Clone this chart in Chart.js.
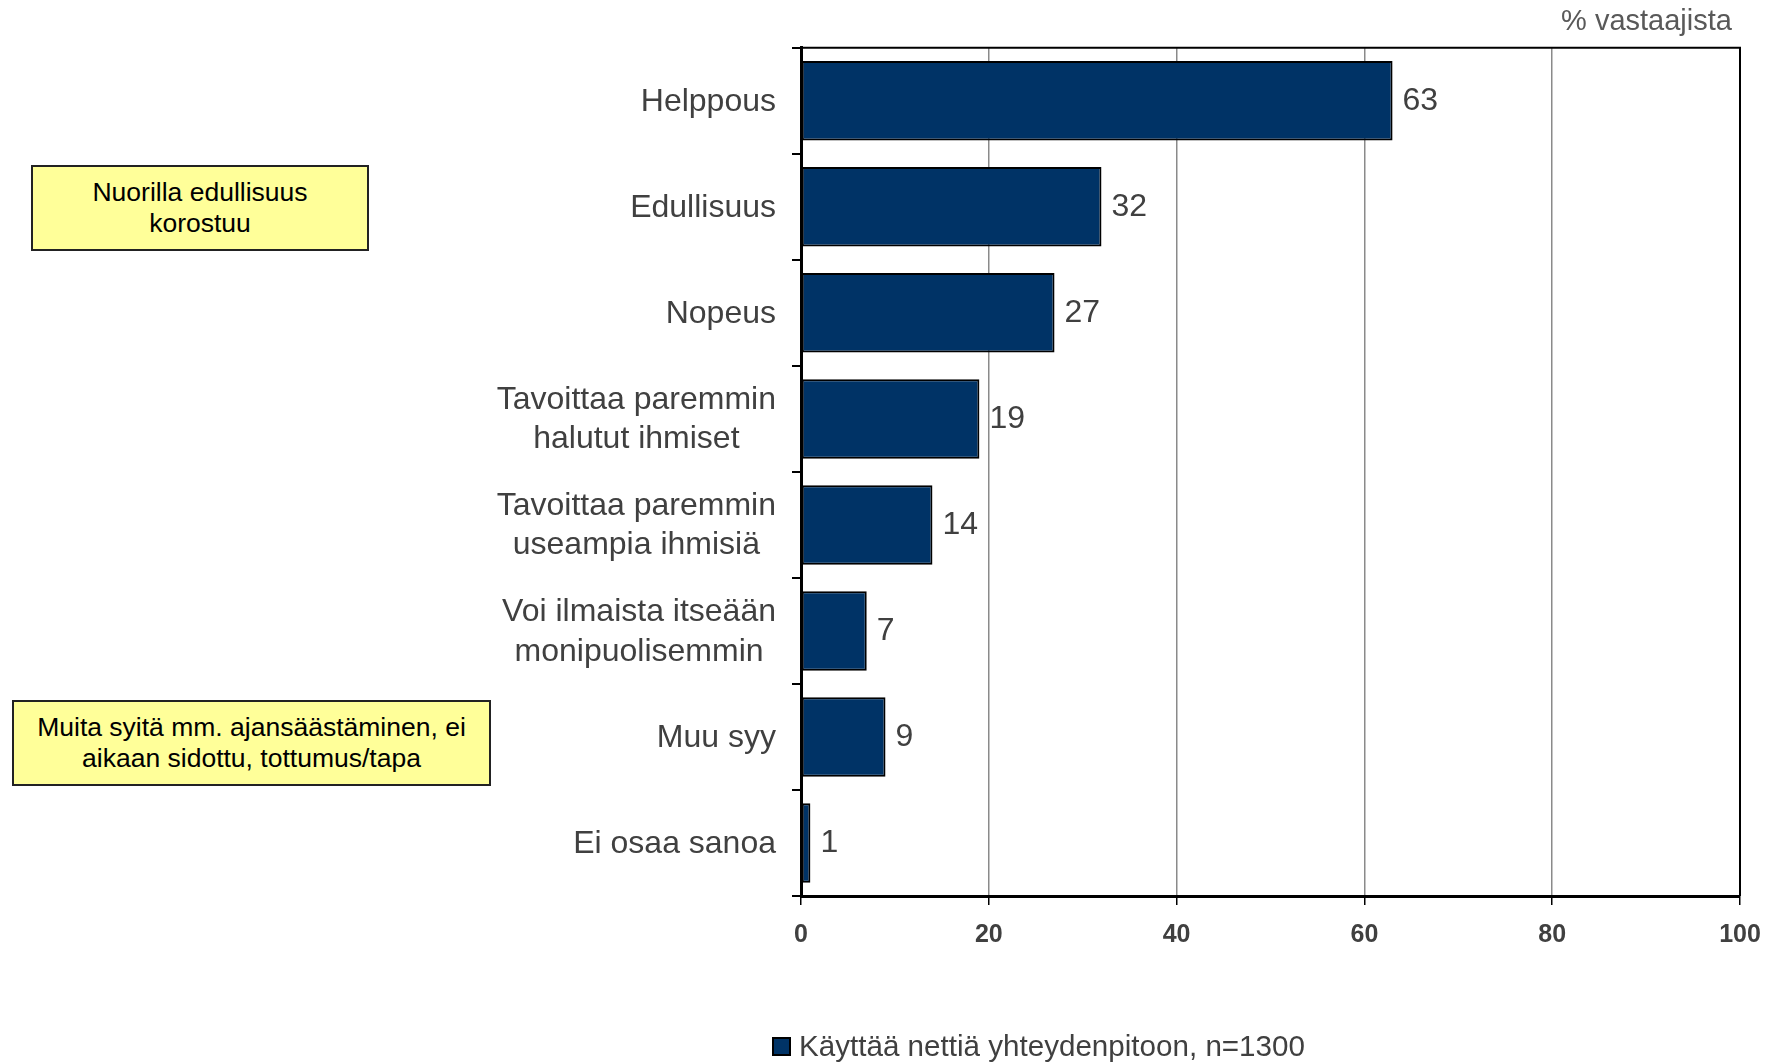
<!DOCTYPE html>
<html><head><meta charset="utf-8">
<script src="https://cdn.jsdelivr.net/npm/chart.js@4/dist/chart.umd.min.js"></script>
<style>
html,body{margin:0;padding:0;background:#fff;}
#wrap{position:relative;width:1776px;height:1064px;overflow:hidden;font-family:"Liberation Sans",Arial,sans-serif;}
canvas{position:absolute;left:0;top:0;}
.note{position:absolute;background:#ffff99;border:2px solid #222;box-sizing:border-box;color:#000;font-size:26.5px;line-height:31px;text-align:center;display:flex;align-items:center;justify-content:center;}
#legend{position:absolute;left:772px;top:1029px;font-size:29.6px;color:#404040;display:flex;align-items:center;white-space:nowrap;}
#legend span.sw{display:inline-block;width:15px;height:15px;background:#003366;border:2px solid #000;margin-right:8px;}
</style></head>
<body><div id="wrap">
<canvas id="c" width="1776" height="1064"></canvas>
<div class="note" style="left:31px;top:165px;width:338px;height:86px;">Nuorilla edullisuus<br>korostuu</div>
<div class="note" style="left:12px;top:700px;width:479px;height:86px;">Muita syitä mm. ajansäästäminen, ei<br>aikaan sidottu, tottumus/tapa</div>
<div id="legend"><span class="sw"></span><span id="legtext"></span></div>
</div>
<script>
const categories = [
  "Helppous",
  "Edullisuus",
  "Nopeus",
  ["Tavoittaa paremmin","halutut ihmiset"],
  ["Tavoittaa paremmin","useampia ihmisiä"],
  ["Voi ilmaista itseään","monipuolisemmin"],
  "Muu syy",
  "Ei osaa sanoa"
];
const values = [63, 32, 27, 19, 14, 7, 9, 1];
const seriesName = "Käyttää nettiä yhteydenpitoon, n=1300";
const xTicks = [0, 20, 40, 60, 80, 100];
const unitLabel = "% vastaajista";

document.getElementById('legtext').textContent = seriesName;

const FONT = '"Liberation Sans", Arial, sans-serif';

const valueLabels = {
  id: 'valueLabels',
  afterDatasetsDraw(chart) {
    const ctx = chart.ctx;
    const meta = chart.getDatasetMeta(0);
    ctx.save();
    ctx.font = '32px ' + FONT;
    ctx.fillStyle = '#404040';
    ctx.textAlign = 'left';
    ctx.textBaseline = 'middle';
    meta.data.forEach((bar, i) => {
      ctx.fillText(String(values[i]), bar.x + 10, bar.y);
    });
    ctx.restore();
  }
};
// category labels: multi-line labels centred on their widest line, block right-aligned
const catLabels = {
  id: 'catLabels',
  afterDraw(chart) {
    const ctx = chart.ctx, ys = chart.scales.y;
    const right = ys.right - 9 - 16;
    const lh = 39.5;
    ctx.save();
    ctx.font = '32px ' + FONT;
    ctx.fillStyle = '#404040';
    ctx.textAlign = 'center';
    ctx.textBaseline = 'middle';
    categories.forEach((lab, i) => {
      const lines = Array.isArray(lab) ? lab : [lab];
      const w = Math.max(...lines.map(l => ctx.measureText(l).width));
      const cx = right - w / 2;
      const cy = ys.getPixelForValue(i) + 1;
      lines.forEach((l, k) => {
        ctx.fillText(l, cx, cy + (k - (lines.length - 1) / 2) * lh);
      });
    });
    ctx.restore();
  }
};
const frame = {
  id: 'frame',
  afterDraw(chart) {
    const a = chart.chartArea, ctx = chart.ctx;
    ctx.save();
    ctx.strokeStyle = '#000';
    ctx.lineWidth = 2;
    ctx.beginPath();
    ctx.moveTo(a.left, a.top);
    ctx.lineTo(a.right, a.top);
    ctx.lineTo(a.right, a.bottom);
    ctx.stroke();
    ctx.restore();
  }
};

new Chart(document.getElementById('c'), {
  type: 'bar',
  data: {
    labels: categories,
    datasets: [{
      label: seriesName,
      data: values,
      backgroundColor: '#003366',
      borderColor: '#000',
      borderWidth: 2,
      borderSkipped: false,
      categoryPercentage: 1,
      barPercentage: 0.75
    }]
  },
  options: {
    indexAxis: 'y',
    responsive: false,
    animation: false,
    devicePixelRatio: 1,
    layout: { padding: { top: 0, right: 36, bottom: 108, left: 0 } },
    plugins: {
      legend: { display: false },
      tooltip: { enabled: false },
      title: {
        display: true,
        text: unitLabel + ' ',
        align: 'end',
        color: '#595959',
        font: { family: FONT, size: 29, weight: 'normal' },
        padding: { top: 5, bottom: 8 }
      }
    },
    scales: {
      x: {
        type: 'linear',
        min: 0, max: 100,
        afterBuildTicks(axis) { axis.ticks = xTicks.map(v => ({ value: v })); },
        afterFit(axis) { axis.height = 60; },
        grid: {
          color: '#8a8a8a',
          lineWidth: 1.5,
          tickColor: '#000',
          tickLength: 9,
          drawTicks: true
        },
        border: { color: '#000', width: 3 },
        ticks: {
          color: '#404040',
          padding: 15,
          font: { family: FONT, size: 25, weight: 'bold' },
          maxRotation: 0
        }
      },
      y: {
        afterFit(axis) { axis.width = 801; },
        grid: {
          drawOnChartArea: false,
          offset: true,
          tickColor: '#000',
          tickLength: 9,
          lineWidth: 2
        },
        border: { color: '#000', width: 3 },
        ticks: {
          color: 'rgba(0,0,0,0)',
          padding: 16,
          font: { family: FONT, size: 30, lineHeight: 1.3 }
        }
      }
    }
  },
  plugins: [valueLabels, catLabels, frame]
});
</script>
</body></html>
